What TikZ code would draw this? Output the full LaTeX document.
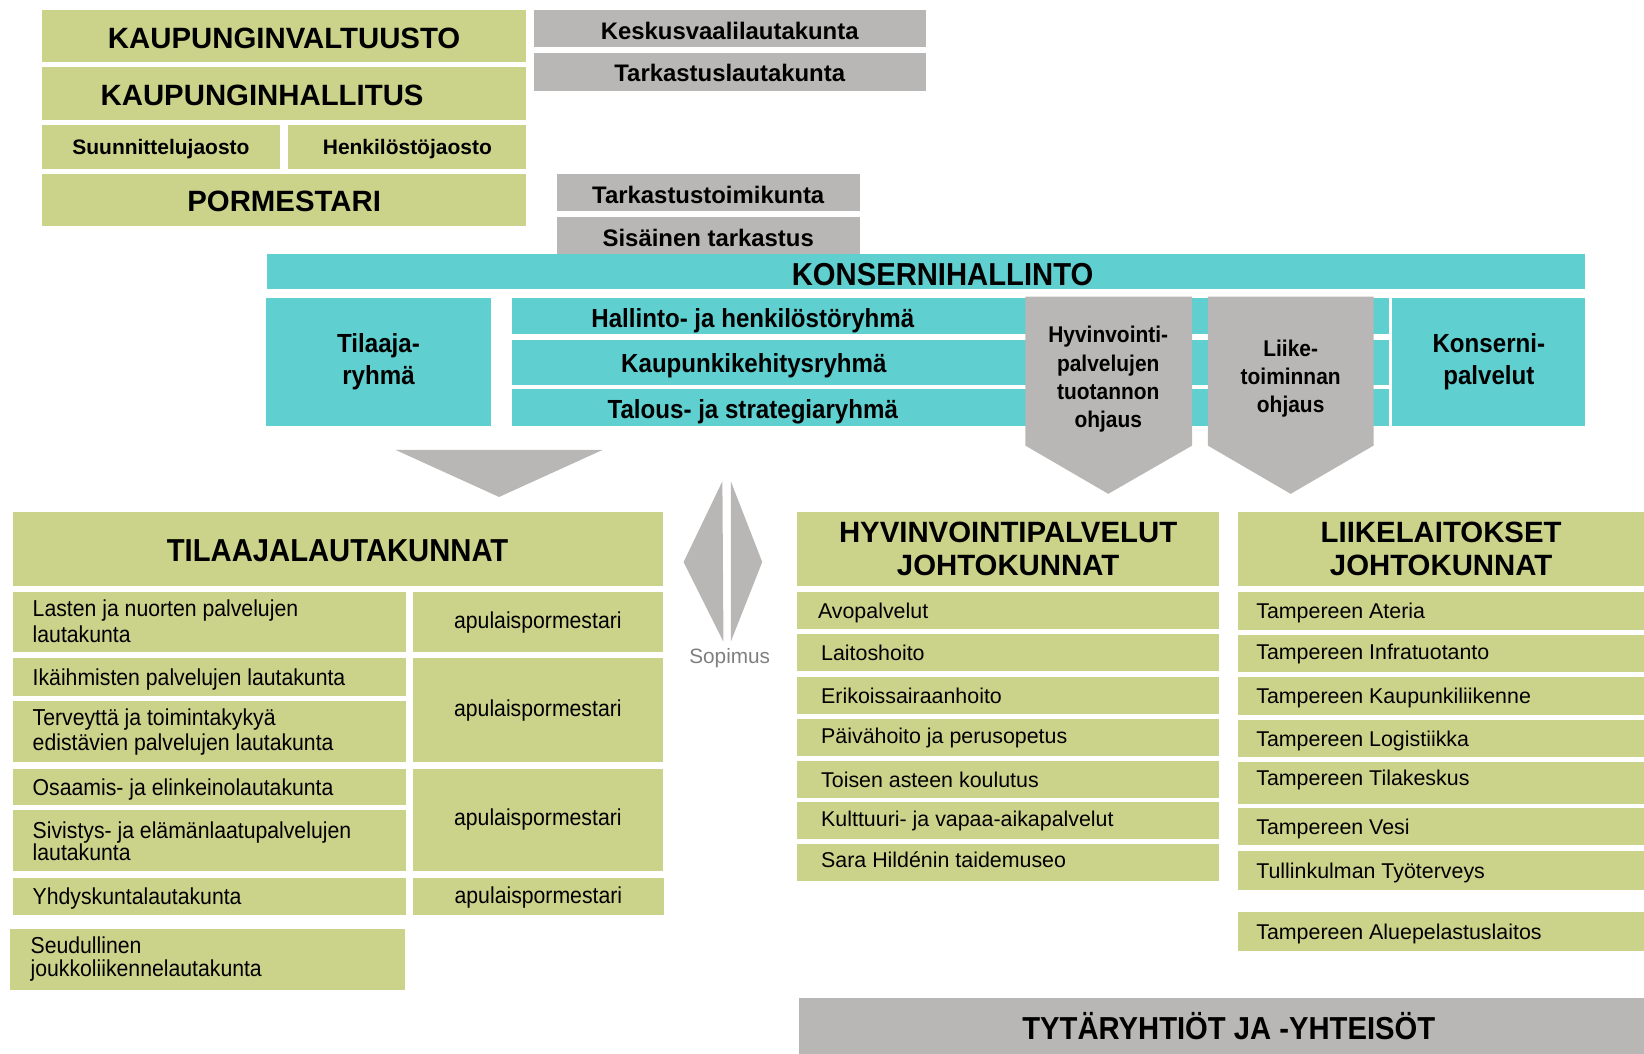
\documentclass[tikz,border=0pt]{standalone}
\usepackage{fontspec}
\setmainfont{Liberation Sans}
\newfontfamily\nrw[FakeStretch=0.92]{Liberation Sans}
\definecolor{cGreen}{HTML}{CBD38A}
\definecolor{cTeal}{HTML}{5FCFD0}
\definecolor{cGray}{HTML}{B8B7B5}
\definecolor{cSop}{HTML}{7F7F7F}
\newcommand\lowerby[2]{\raisebox{0pt}[\dimexpr\height+#1\relax]{#2}}
\begin{document}
\begin{tikzpicture}[x=1pt,y=-1pt,
  box/.style n args={4}{anchor=north west, at={(#1,#2)},
    minimum width={(#3-#1)*1pt}, minimum height={(#4-#2)*1pt},
    inner sep=0pt, outer sep=0pt},
  gbox/.style={fill=cGreen},
  tbox/.style={fill=cTeal},
  ybox/.style={fill=cGray},
  big/.style={font=\bfseries\fontsize{28}{32}\selectfont},
  bign/.style={font=\nrw\bfseries\fontsize{30.3}{34}\selectfont},
  mid/.style={font=\bfseries\fontsize{22.8}{26}\selectfont},
  jao/.style={font=\bfseries\fontsize{20}{24}\selectfont},
  tt/.style={font=\nrw\bfseries\fontsize{25}{30}\selectfont},
  pentxt/.style={font=\nrw\bfseries\fontsize{21.7}{27}\selectfont, align=center},
  lt/.style={font=\nrw\fontsize{22}{24}\selectfont},
  itx/.style={font=\fontsize{20.4}{24}\selectfont},
  one/.style={text height=#1, text depth=0pt, inner sep=0pt},
  lft/.style={anchor=west, align=left, inner sep=0pt},
]
\useasboundingbox (0,0) rectangle (1568,1005);

% --- top green column
\node[gbox, box={40}{10}{502}{59}, big] (kv) {\lowerby{5pt}{KAUPUNGINVALTUUSTO}};
\node[gbox, box={40}{64}{502}{114}, big] (kh) {\lowerby{4pt}{KAUPUNGINHALLITUS}\hspace*{42pt}};
\node[gbox, box={40}{119}{267}{161}, jao] (sj) {\lowerby{4pt}{Suunnittelujaosto}};
\node[gbox, box={275}{119}{502}{161}, jao] (hj) {\lowerby{4pt}{Henkilöstöjaosto}};
\node[gbox, box={40}{166}{502}{216}, big] (pm) {\lowerby{2pt}{PORMESTARI}};

% --- top gray boxes
\node[ybox, box={509}{10}{883}{45}, mid] (kvl) {\lowerby{4pt}{Keskusvaalilautakunta}};
\node[ybox, box={509}{51}{883}{87}, mid] (tlk) {\lowerby{2pt}{Tarkastuslautakunta}};
\node[ybox, box={531}{166}{820}{201}, mid] (ttk) {\lowerby{4pt}{Tarkastustoimikunta}};
\node[ybox, box={531}{207}{820}{242}, mid] (sis) {\lowerby{4pt}{Sisäinen tarkastus}};

% --- konsernihallinto
\node[tbox, box={255}{242}{1512}{276}] (kon) {};
\node[bign, one=21.8pt] (kont) at (899,261) {KONSERNIHALLINTO};
\node[tbox, box={254}{284}{468}{406}, tt, align=center] (tr) {Tilaaja-\\ryhmä};
\node[tbox, box={488}{284}{1325}{319}] (hr) {};
\node[tbox, box={488}{324}{1325}{367}] (kr) {};
\node[tbox, box={488}{371}{1325}{406}] (sr) {};
\node[tt, one=18pt] (hrt) at (718,303) {Hallinto- ja henkilöstöryhmä};
\node[tt, one=18pt] (krt) at (719,346) {Kaupunkikehitysryhmä};
\node[tt, one=18pt] (srt) at (718,390) {Talous- ja strategiaryhmä};
\node[tbox, box={1328}{284}{1512}{406}, tt, align=center] (kp) {Konserni-\\palvelut};

% --- gray pentagons
\fill[cGray] (978,283) -- (1137,283) -- (1137,425) -- (1057,471) -- (978,425) -- cycle;
\node[pentxt] (hvo) at (1057,362) {Hyvinvointi-\\palvelujen\\tuotannon\\ohjaus};
\fill[cGray] (1152,283) -- (1310,283) -- (1310,425) -- (1231,471) -- (1152,425) -- cycle;
\node[pentxt] (lto) at (1231,361) {Liike-\\toiminnan\\ohjaus};

% --- down triangle
\fill[cGray] (377,429) -- (575,429) -- (476,474) -- cycle;

% --- sopimus
\fill[cGray] (689,459) -- (652,536) -- (690,612) -- cycle;
\fill[cGray] (697,459) -- (727,536) -- (697,612) -- cycle;
\node[font=\fontsize{19.8}{22}\selectfont, text=cSop, one=14.3pt] (sop) at (696,626) {Sopimus};

% --- tilaajalautakunnat
\node[gbox, box={12}{488}{632}{559}, bign] (tl) {\lowerby{3pt}{TILAAJALAUTAKUNNAT}};
\node[gbox, box={12}{565}{387}{622}] (l1) {};
\node[gbox, box={12}{628}{387}{664}] (l2) {};
\node[gbox, box={12}{669}{387}{727}] (l3) {};
\node[gbox, box={12}{733}{387}{768}] (l4) {};
\node[gbox, box={12}{773}{387}{831}] (l5) {};
\node[gbox, box={12}{837}{387}{873}] (l6) {};
\node[gbox, box={10}{886}{386}{944}] (l7) {};
\node[lt, lft] (l1t) at ([xshift=19pt,yshift=1pt]l1.west) {Lasten ja nuorten palvelujen\\lautakunta};
\node[lt, lft, one=15.8pt] (l2t) at ([xshift=19pt]l2.west) {Ikäihmisten palvelujen lautakunta};
\node[lt, lft] (l3t) at ([xshift=19pt]l3.west) {Terveyttä ja toimintakykyä\\edistävien palvelujen lautakunta};
\node[lt, lft, one=15.8pt] (l4t) at ([xshift=19pt]l4.west) {Osaamis- ja elinkeinolautakunta};
\node[font=\nrw\fontsize{22}{21}\selectfont, lft] (l5t) at ([xshift=19pt]l5.west) {Sivistys- ja elämänlaatupalvelujen\\lautakunta};
\node[lt, lft, one=15.8pt] (l6t) at ([xshift=19pt]l6.west) {Yhdyskuntalautakunta};
\node[font=\nrw\fontsize{22}{22}\selectfont, lft] (l7t) at ([xshift=19pt]l7.west) {Seudullinen\\joukkoliikennelautakunta};
\node[gbox, box={394}{565}{632}{622}, lt] (a1) {apulaispormestari};
\node[gbox, box={394}{628}{632}{727}, lt] (a2) {apulaispormestari};
\node[gbox, box={394}{733}{632}{831}, lt] (a3) {apulaispormestari};
\node[gbox, box={394}{837}{633}{873}, lt] (a4) {\lowerby{3pt}{apulaispormestari}};

% --- hyvinvointipalvelut
\node[gbox, box={760}{488}{1163}{559}, big, align=center] (hv) {HYVINVOINTIPALVELUT\\JOHTOKUNNAT};
\node[gbox, box={760}{565}{1163}{600}] (h1) {};
\node[gbox, box={760}{605}{1163}{640}] (h2) {};
\node[gbox, box={760}{646}{1163}{681}] (h3) {};
\node[gbox, box={760}{686}{1163}{721}] (h4) {};
\node[gbox, box={760}{726}{1163}{761}] (h5) {};
\node[gbox, box={760}{765}{1163}{800}] (h6) {};
\node[gbox, box={760}{805}{1163}{840}] (h7) {};
\node[itx, lft, one=14.7pt] (h1t) at ([xshift=20pt]h1.west) {Avopalvelut};
\node[itx, lft, one=14.7pt] (h2t) at ([xshift=23pt]h2.west) {Laitoshoito};
\node[itx, lft, one=14.7pt] (h3t) at ([xshift=23pt]h3.west) {Erikoissairaanhoito};
\node[itx, lft, one=14.7pt] (h4t) at ([xshift=23pt,yshift=2pt]h4.west) {Päivähoito ja perusopetus};
\node[itx, lft, one=14.7pt] (h5t) at ([xshift=23pt]h5.west) {Toisen asteen koulutus};
\node[itx, lft, one=14.7pt] (h6t) at ([xshift=23pt,yshift=2pt]h6.west) {Kulttuuri- ja vapaa-aikapalvelut};
\node[itx, lft, one=14.7pt] (h7t) at ([xshift=23pt,yshift=2pt]h7.west) {Sara Hildénin taidemuseo};

% --- liikelaitokset
\node[gbox, box={1181}{488}{1568}{559}, big, align=center] (lk) {LIIKELAITOKSET\\JOHTOKUNNAT};
\node[gbox, box={1181}{565}{1568}{601}] (r1) {};
\node[gbox, box={1181}{606}{1568}{641}] (r2) {};
\node[gbox, box={1181}{646}{1568}{682}] (r3) {};
\node[gbox, box={1181}{687}{1568}{722}] (r4) {};
\node[gbox, box={1181}{727}{1568}{767}] (r5) {};
\node[gbox, box={1181}{771}{1568}{806}] (r6) {};
\node[gbox, box={1181}{812}{1568}{849}] (r7) {};
\node[gbox, box={1181}{870}{1568}{907}] (r8) {};
\node[itx, lft, one=14.7pt] (r1t) at ([xshift=17pt]r1.west) {Tampereen Ateria};
\node[itx, lft, one=14.7pt] (r2t) at ([xshift=17pt,yshift=2pt]r2.west) {Tampereen Infratuotanto};
\node[itx, lft, one=14.7pt] (r3t) at ([xshift=17pt]r3.west) {Tampereen Kaupunkiliikenne};
\node[itx, lft, one=14.7pt] (r4t) at ([xshift=17pt]r4.west) {Tampereen Logistiikka};
\node[itx, lft, one=14.7pt] (r5t) at ([xshift=17pt,yshift=5pt]r5.west) {Tampereen Tilakeskus};
\node[itx, lft, one=14.7pt] (r6t) at ([xshift=17pt]r6.west) {Tampereen Vesi};
\node[itx, lft, one=14.7pt] (r7t) at ([xshift=17pt]r7.west) {Tullinkulman Työterveys};
\node[itx, lft, one=14.7pt] (r8t) at ([xshift=17pt]r8.west) {Tampereen Aluepelastuslaitos};

% --- tytäryhtiöt
\node[ybox, box={762}{952}{1568}{1005}] (ty) {};
\node[bign, one=21.8pt] (tyt) at (1172,981) {TYTÄRYHTIÖT JA -YHTEISÖT};
\end{tikzpicture}
\end{document}
